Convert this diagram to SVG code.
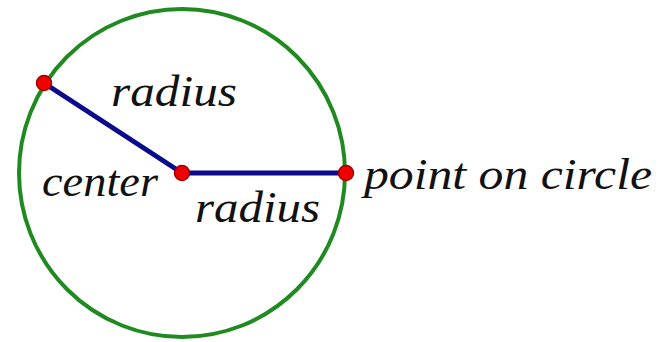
<svg xmlns="http://www.w3.org/2000/svg" width="661" height="342" viewBox="0 0 661 342">
<style>
.lbl{font-family:"Liberation Serif","Times New Roman",serif;font-style:italic;font-size:44px;fill:#111}
.seg{stroke:#0a0a8c;stroke-width:5;stroke-linecap:round}
.pt{fill:#f00000;stroke:#a00000;stroke-width:1.5}
</style>
<rect width="661" height="342" fill="#fff"/>
<g id="circle"><ellipse cx="182" cy="173" rx="163" ry="164" fill="none" stroke="#1f8a1f" stroke-width="4"/></g>
<g id="connectors">
<line class="seg" x1="44" y1="83" x2="182" y2="173"/>
<line class="seg" x1="182" y1="173" x2="346" y2="173"/>
</g>
<g id="p1"><circle class="pt" cx="44" cy="83" r="7.5"/></g>
<g id="center"><circle class="pt" cx="182" cy="173" r="7.5"/><text class="lbl" x="42" y="196" textLength="116" lengthAdjust="spacingAndGlyphs">center</text></g>
<g id="p2"><circle class="pt" cx="346" cy="173" r="7.5"/><text class="lbl" x="364" y="189" textLength="288" lengthAdjust="spacingAndGlyphs">point on circle</text></g>
<text class="lbl" x="111" y="106" textLength="126" lengthAdjust="spacingAndGlyphs">radius</text>
<text class="lbl" x="195" y="222" textLength="125" lengthAdjust="spacingAndGlyphs">radius</text>
</svg>
